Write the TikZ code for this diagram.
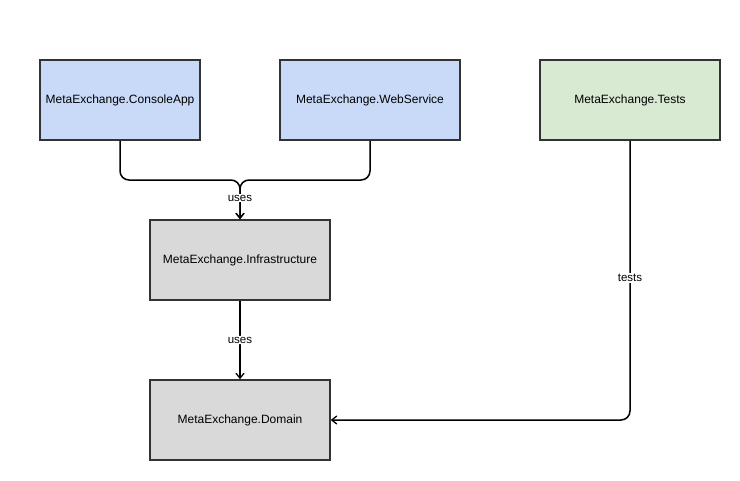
\documentclass[tikz,border=0pt]{standalone}
\usepackage{fontspec}
\setmainfont{Liberation Sans}
\usetikzlibrary{arrows.meta}
\definecolor{bluefill}{HTML}{C9DAF8}
\definecolor{greenfill}{HTML}{D9EAD3}
\definecolor{grayfill}{HTML}{D9D9D9}
\definecolor{edgegray}{HTML}{333333}
\begin{document}
\begin{tikzpicture}[x=1pt,y=-1pt,
  box/.style={draw=edgegray,line width=1.5pt,minimum width=#1,minimum height=80pt,inner sep=0pt,font=\fontsize{12}{14}\selectfont},
  conn/.style={line width=1.5pt,rounded corners=9pt,-{Straight Barb[length=5pt,width=8pt,line width=1.3pt]}},
  lab/.style={fill=white,inner sep=1pt,font=\fontsize{11.5}{13}\selectfont}]
\useasboundingbox (0,0) rectangle (740,480);
\node[box=160pt,fill=bluefill] (console) at (120,100) {MetaExchange.ConsoleApp};
\node[box=180pt,fill=bluefill] (web) at (370,100) {MetaExchange.WebService};
\node[box=180pt,fill=greenfill] (tests) at (630,100) {MetaExchange.Tests};
\node[box=180pt,fill=grayfill] (infra) at (240,260) {MetaExchange.Infrastructure};
\node[box=180pt,fill=grayfill] (domain) at (240,420) {MetaExchange.Domain};
\draw[conn] (console.south) -- (120,180) -- (240,180) -- (infra.north);
\draw[conn] (web.south) -- (370,180) -- (240,180) -- (infra.north);
\node[lab] (l1) at (240,198) {uses};
\draw[conn] (infra.south) -- node[lab] (l2) {uses} (domain.north);
\draw[conn] (tests.south) -- (630,420) -- (domain.east);
\node[lab] (l3) at (630,278) {tests};
\end{tikzpicture}
\end{document}
